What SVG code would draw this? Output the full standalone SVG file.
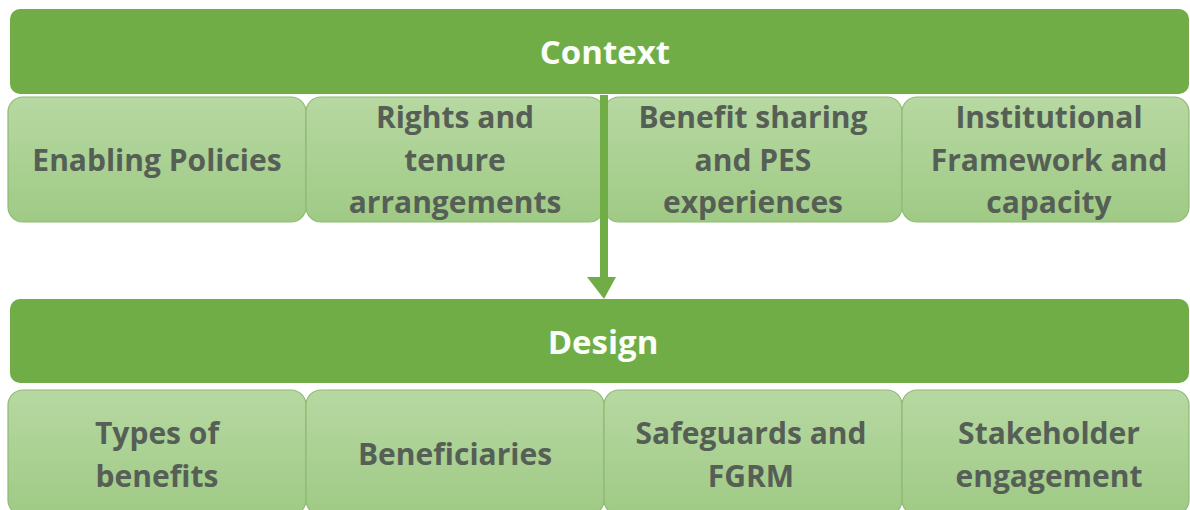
<svg xmlns="http://www.w3.org/2000/svg" width="1190" height="510" viewBox="0 0 1190 510">
<defs>
<linearGradient id="lg" x1="0" y1="0" x2="0" y2="1">
<stop offset="0" stop-color="#B7D8A2"/>
<stop offset="1" stop-color="#9FCA85"/>
</linearGradient>
<style>
.bar{fill:#70AD47;}
.box{fill:url(#lg);stroke:#8DBB72;stroke-width:1.2;}
.title{font-family:"Open Sans",Lato,sans-serif;font-weight:bold;font-size:33px;fill:#FAFDF8;text-anchor:middle;font-variant-ligatures:none;}
.lbl{font-family:"Open Sans",Lato,sans-serif;font-weight:bold;font-size:30px;fill:#565F56;text-anchor:middle;font-variant-ligatures:none;}
.arrow{fill:#70AD47;}
</style>
</defs>
<rect width="1190" height="510" fill="#FFFFFF"/>
<g id="context">
<rect class="bar" x="10" y="9" width="1179" height="85" rx="10"/>
<text class="title" x="605" y="64">Context</text>
</g>
<g id="enabling-policies">
<rect class="box" x="8" y="97" width="298" height="125" rx="15"/>
<text class="lbl" x="157" y="171">Enabling Policies</text>
</g>
<g id="rights-tenure">
<rect class="box" x="306" y="97" width="298" height="125" rx="15"/>
<text class="lbl" x="455" y="128">Rights and</text>
<text class="lbl" x="455" y="171">tenure</text>
<text class="lbl" x="455" y="213">arrangements</text>
</g>
<g id="benefit-sharing">
<rect class="box" x="604" y="97" width="298" height="125" rx="15"/>
<text class="lbl" x="753" y="128">Benefit sharing</text>
<text class="lbl" x="753" y="171">and PES</text>
<text class="lbl" x="753" y="213">experiences</text>
</g>
<g id="institutional">
<rect class="box" x="902" y="97" width="287" height="125" rx="15"/>
<text class="lbl" x="1049" y="128">Institutional</text>
<text class="lbl" x="1049" y="171">Framework and</text>
<text class="lbl" x="1049" y="213">capacity</text>
</g>
<g id="design">
<rect class="bar" x="10" y="299" width="1179" height="84" rx="10"/>
<text class="title" x="603" y="354">Design</text>
</g>
<g id="types-of-benefits">
<rect class="box" x="8" y="390" width="298" height="125" rx="15"/>
<text class="lbl" x="157" y="444">Types of</text>
<text class="lbl" x="157" y="487">benefits</text>
</g>
<g id="beneficiaries">
<rect class="box" x="306" y="390" width="298" height="125" rx="15"/>
<text class="lbl" x="455" y="465">Beneficiaries</text>
</g>
<g id="safeguards">
<rect class="box" x="604" y="390" width="298" height="125" rx="15"/>
<text class="lbl" x="751" y="444">Safeguards and</text>
<text class="lbl" x="751" y="487">FGRM</text>
</g>
<g id="stakeholder">
<rect class="box" x="902" y="390" width="287" height="125" rx="15"/>
<text class="lbl" x="1049" y="444">Stakeholder</text>
<text class="lbl" x="1049" y="487">engagement</text>
</g>
<g id="connectors">
<path class="arrow" d="M600,95 L608,95 L608,277 L616,277 L604,299 L587,277 L600,277 Z"/>
</g>
</svg>
